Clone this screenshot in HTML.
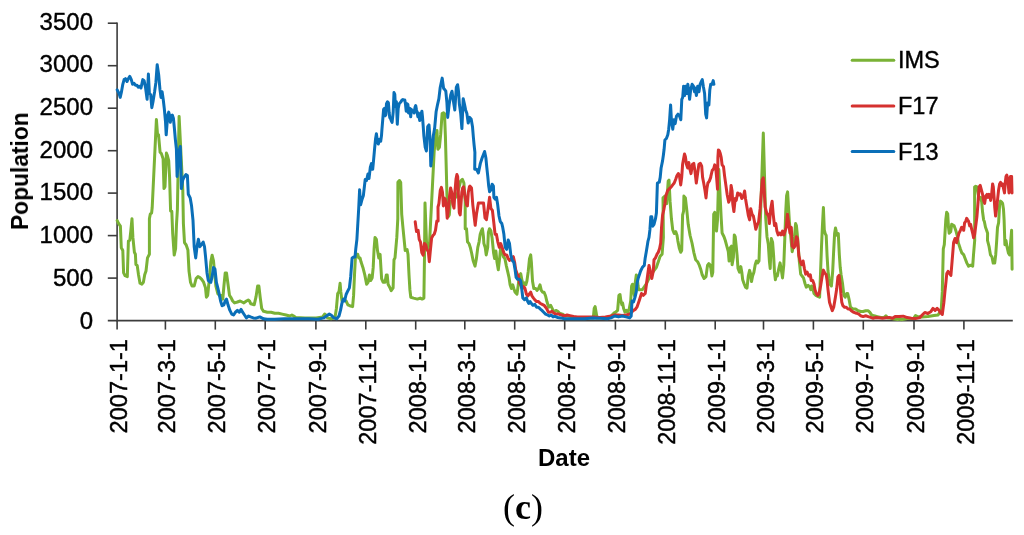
<!DOCTYPE html><html><head><meta charset="utf-8"><style>
html,body{margin:0;padding:0;background:#fff;}
body{width:1024px;height:535px;position:relative;overflow:hidden;font-family:"Liberation Sans",sans-serif;color:#000;}
svg{position:absolute;left:0;top:0;}
div{will-change:transform;}
.yl,.xl,.lg{-webkit-text-stroke:0.4px #000;}
.yl{position:absolute;font-size:24px;line-height:24px;text-align:right;width:80px;}
.xl{position:absolute;font-size:23.6px;line-height:24px;white-space:nowrap;width:150px;text-align:right;transform-origin:0 0;transform:rotate(-90deg);}
.lg{position:absolute;font-size:23.5px;line-height:24px;}
</style></head><body>

<svg width="1024" height="535" viewBox="0 0 1024 535"><line x1="117.1" y1="22.5" x2="117.1" y2="321.4" stroke="#3c3c3c" stroke-width="1.6"/><line x1="107.8" y1="320.6" x2="1012.8" y2="320.6" stroke="#3c3c3c" stroke-width="1.6"/><line x1="107.8" y1="278.1" x2="117.1" y2="278.1" stroke="#3c3c3c" stroke-width="1.6"/><line x1="107.8" y1="235.6" x2="117.1" y2="235.6" stroke="#3c3c3c" stroke-width="1.6"/><line x1="107.8" y1="193.1" x2="117.1" y2="193.1" stroke="#3c3c3c" stroke-width="1.6"/><line x1="107.8" y1="150.7" x2="117.1" y2="150.7" stroke="#3c3c3c" stroke-width="1.6"/><line x1="107.8" y1="108.2" x2="117.1" y2="108.2" stroke="#3c3c3c" stroke-width="1.6"/><line x1="107.8" y1="65.7" x2="117.1" y2="65.7" stroke="#3c3c3c" stroke-width="1.6"/><line x1="107.8" y1="23.2" x2="117.1" y2="23.2" stroke="#3c3c3c" stroke-width="1.6"/><line x1="117.1" y1="320.6" x2="117.1" y2="329.6" stroke="#3c3c3c" stroke-width="1.6"/><line x1="165.4" y1="320.6" x2="165.4" y2="329.6" stroke="#3c3c3c" stroke-width="1.6"/><line x1="215.3" y1="320.6" x2="215.3" y2="329.6" stroke="#3c3c3c" stroke-width="1.6"/><line x1="265.2" y1="320.6" x2="265.2" y2="329.6" stroke="#3c3c3c" stroke-width="1.6"/><line x1="315.9" y1="320.6" x2="315.9" y2="329.6" stroke="#3c3c3c" stroke-width="1.6"/><line x1="365.8" y1="320.6" x2="365.8" y2="329.6" stroke="#3c3c3c" stroke-width="1.6"/><line x1="415.7" y1="320.6" x2="415.7" y2="329.6" stroke="#3c3c3c" stroke-width="1.6"/><line x1="464.8" y1="320.6" x2="464.8" y2="329.6" stroke="#3c3c3c" stroke-width="1.6"/><line x1="514.7" y1="320.6" x2="514.7" y2="329.6" stroke="#3c3c3c" stroke-width="1.6"/><line x1="564.7" y1="320.6" x2="564.7" y2="329.6" stroke="#3c3c3c" stroke-width="1.6"/><line x1="615.4" y1="320.6" x2="615.4" y2="329.6" stroke="#3c3c3c" stroke-width="1.6"/><line x1="665.3" y1="320.6" x2="665.3" y2="329.6" stroke="#3c3c3c" stroke-width="1.6"/><line x1="715.2" y1="320.6" x2="715.2" y2="329.6" stroke="#3c3c3c" stroke-width="1.6"/><line x1="763.5" y1="320.6" x2="763.5" y2="329.6" stroke="#3c3c3c" stroke-width="1.6"/><line x1="813.4" y1="320.6" x2="813.4" y2="329.6" stroke="#3c3c3c" stroke-width="1.6"/><line x1="863.3" y1="320.6" x2="863.3" y2="329.6" stroke="#3c3c3c" stroke-width="1.6"/><line x1="914.0" y1="320.6" x2="914.0" y2="329.6" stroke="#3c3c3c" stroke-width="1.6"/><line x1="963.9" y1="320.6" x2="963.9" y2="329.6" stroke="#3c3c3c" stroke-width="1.6"/><polyline points="117.2,220.6 118.5,223.4 120.4,226.2 121.3,247.7 122.8,250.5 123.6,272.9 125.1,275.7 127.3,276.6 128.4,241.1 129.8,240.2 130.7,231.8 132.0,218.7 132.9,237.4 134.4,252.3 135.4,254.2 135.9,264.5 137.2,265.4 138.5,274.8 140.0,283.2 141.9,284.1 143.4,282.2 144.7,274.8 146.0,271.0 147.5,257.9 149.4,254.2 149.4,218.7 150.3,214.0 151.6,213.1 152.2,207.5 156.4,119.6 157.5,134.0 158.5,134.7 160.1,152.3 161.4,153.6 163.1,158.7 164.0,188.6 165.0,186.7 166.4,153.1 167.2,155.0 168.7,160.6 169.6,177.4 170.6,211.0 171.8,211.2 172.7,233.6 174.2,255.1 175.6,248.6 176.5,224.3 177.4,209.3 179.1,116.4 182.8,190.0 183.4,223.6 184.5,242.7 186.2,245.0 187.9,250.0 189.0,271.0 190.5,282.2 192.0,286.0 194.2,286.0 196.1,278.5 198.0,276.6 199.9,277.6 201.7,279.4 203.6,282.2 205.5,287.9 206.4,297.2 207.7,295.3 208.8,284.1 209.3,280.5 210.8,261.8 212.1,255.2 213.5,260.8 214.6,273.0 215.9,286.1 217.8,293.6 219.6,295.4 221.5,295.4 222.8,299.2 223.9,286.1 225.2,273.0 226.5,273.0 228.0,284.2 229.5,295.4 230.8,297.3 232.7,301.0 234.6,302.9 237.4,302.0 240.2,301.0 242.1,302.0 243.9,302.9 246.4,301.0 248.2,300.1 249.5,301.0 250.8,303.8 254.2,304.8 256.1,296.4 257.6,286.1 258.9,286.1 260.2,297.3 261.7,308.5 263.6,311.3 267.3,312.2 271.0,312.2 274.8,313.2 278.5,313.2 282.2,314.1 286.0,315.0 289.7,316.0 291.9,315.0 293.7,316.0 295.6,317.5 305.0,317.9 316.2,317.9 322.7,316.9 324.6,314.1 325.9,315.0 327.4,317.9 331.1,318.8 334.9,317.9 336.4,308.5 337.7,293.6 339.0,291.7 340.1,283.3 340.8,291.7 342.0,301.0 343.3,299.2 344.6,300.1 346.1,301.0 347.9,304.8 349.8,305.7 352.6,306.6 353.6,295.4 354.5,274.9 355.4,258.0 356.4,254.3 357.7,254.3 358.8,258.0 360.1,258.0 361.0,261.8 362.9,267.4 364.8,274.9 366.6,284.2 368.1,282.3 369.4,274.9 370.7,280.5 372.2,277.7 373.2,267.4 374.1,248.7 375.0,237.5 376.4,239.3 377.5,250.6 378.8,258.0 380.1,254.3 381.6,278.6 383.1,282.3 385.0,282.3 386.3,274.9 387.2,274.9 388.1,284.2 390.0,287.9 391.2,290.7 393.1,287.9 394.0,259.8 395.0,257.9 396.8,237.4 397.8,218.7 397.9,182.3 399.4,180.5 400.7,182.3 401.7,214.1 402.8,226.2 403.9,237.4 405.2,250.5 407.1,249.5 408.0,254.2 409.0,274.8 409.9,289.7 410.8,297.2 413.6,298.1 417.4,299.1 420.2,298.1 422.1,299.1 423.9,298.1 424.5,256.1 425.0,202.9 426.7,247.3 427.6,249.9 429.6,242.1 434.2,151.0 435.7,136.1 437.0,130.5 437.9,149.2 439.4,147.3 440.7,134.2 442.1,113.6 443.6,112.7 444.5,113.6 445.4,136.1 446.5,177.4 447.1,201.7 448.4,216.6 449.3,214.8 450.3,201.7 453.1,199.8 456.8,196.1 460.6,181.1 462.4,179.3 463.9,183.0 465.2,201.7 465.2,228.7 465.2,228.7 466.5,228.7 467.5,241.8 469.0,243.6 470.3,247.4 471.6,253.0 473.1,260.5 475.0,266.1 476.4,258.6 477.8,247.4 479.1,241.8 480.2,234.3 481.5,230.6 482.4,228.7 483.4,236.2 483.9,243.6 485.2,247.4 486.2,254.9 487.7,247.4 488.4,232.4 489.5,228.7 490.8,230.6 492.1,238.0 493.6,253.0 494.6,258.6 495.9,251.1 497.0,262.3 498.3,269.8 499.6,258.6 500.7,247.4 502.1,251.1 503.4,256.7 504.9,258.6 506.4,266.1 507.7,271.7 509.0,277.3 510.1,284.8 511.4,288.5 512.7,284.8 513.8,288.5 515.1,292.2 517.0,294.1 518.3,284.8 519.4,275.4 520.7,273.6 522.1,281.0 523.2,284.8 524.5,282.9 525.8,284.8 526.9,281.0 528.2,271.7 529.5,258.6 530.7,254.9 531.4,262.3 532.5,281.0 533.8,288.5 535.7,288.5 537.0,290.4 538.5,288.5 540.0,284.8 541.3,290.4 542.6,292.2 544.1,292.2 545.6,296.0 546.9,301.6 548.8,307.2 550.7,305.3 552.5,309.1 553.5,312.2 555.9,310.4 557.8,311.3 559.6,313.2 562.4,314.1 565.2,316.0 568.0,316.0 571.8,316.9 575.5,317.5 579.3,317.9 583.0,318.2 586.7,317.9 590.5,317.9 593.3,317.9 594.2,308.5 595.1,306.6 596.1,312.2 597.0,317.9 599.8,317.9 603.6,317.5 607.3,317.9 611.0,316.0 613.8,313.2 615.7,312.2 617.6,310.4 618.9,295.4 620.0,294.5 620.9,301.0 621.9,304.8 622.6,302.9 623.6,308.5 625.0,312.2 626.4,310.4 627.9,312.2 629.3,308.5 630.7,301.0 631.6,286.1 632.5,284.2 633.5,289.8 634.4,295.4 635.3,282.3 636.3,274.9 637.2,276.7 638.1,286.1 638.7,289.7 642.4,289.7 646.2,284.1 649.9,276.6 653.6,271.0 656.4,267.3 658.3,261.7 660.2,256.1 662.1,254.2 663.4,237.4 663.0,197.9 664.9,196.1 666.7,203.6 668.2,181.1 669.0,180.2 670.1,201.7 671.4,218.5 672.7,229.7 674.2,233.5 675.7,231.6 677.0,235.3 677.9,241.1 679.4,248.6 680.7,252.3 681.7,250.5 682.6,215.0 683.6,211.2 683.9,196.1 685.4,197.9 686.9,211.2 688.2,224.3 690.1,235.5 692.0,243.0 693.8,252.3 695.7,259.8 697.6,261.7 699.4,265.4 700.7,269.2 702.2,274.8 704.1,278.5 706.0,276.6 707.5,265.4 708.8,263.6 710.0,264.8 710.9,268.5 711.9,276.0 712.8,272.2 713.7,214.3 714.7,212.4 715.6,216.2 716.5,231.1 717.5,219.9 718.8,169.5 721.2,218.0 722.1,233.0 724.0,236.7 725.3,240.5 726.8,246.1 728.3,251.7 729.1,261.0 730.2,247.9 731.5,246.1 732.1,264.8 733.4,257.3 734.3,234.9 735.2,236.7 736.2,246.1 737.1,255.4 738.0,268.5 739.5,272.2 740.8,266.6 741.8,272.2 742.7,279.7 744.0,283.5 745.5,287.2 747.0,288.1 748.3,276.0 749.6,270.4 750.7,274.1 751.5,281.6 752.6,276.0 753.9,272.2 755.2,264.8 756.4,261.0 757.7,262.9 759.0,261.0 763.3,133.1 765.7,218.0 767.0,236.7 768.3,244.2 769.4,261.0 770.2,268.5 771.3,238.6 772.6,242.3 773.6,255.4 774.5,272.2 775.4,279.7 776.4,274.1 777.3,276.0 778.8,268.5 780.1,262.9 781.4,270.4 782.5,277.9 783.8,264.8 784.8,238.6 785.7,212.4 786.6,195.6 787.6,191.9 788.5,206.8 789.4,221.8 790.4,233.0 791.3,242.3 792.2,251.7 793.2,246.1 794.5,236.7 795.6,223.6 796.4,225.5 797.5,236.7 798.2,246.1 799.3,261.0 800.7,274.1 802.0,276.0 803.5,277.9 805.0,283.5 806.3,287.2 808.1,285.3 810.0,287.2 810.8,289.7 811.6,286.0 812.7,287.9 814.0,293.5 815.9,295.3 817.8,296.3 819.6,297.2 820.6,271.0 821.5,246.7 822.4,226.2 823.4,207.5 824.3,229.9 825.2,233.6 826.2,235.5 827.1,256.1 828.0,271.0 829.0,278.5 829.9,284.1 831.4,286.0 832.7,271.0 833.6,252.3 834.6,233.6 835.5,228.0 836.4,231.8 837.4,235.5 838.3,233.6 839.3,254.2 840.2,267.3 841.1,274.8 842.6,284.1 843.9,295.3 845.2,297.2 846.7,293.5 847.7,293.5 849.0,299.1 850.5,307.3 853.0,309.0 855.6,309.0 858.1,310.7 860.6,311.5 863.1,311.5 865.7,310.7 868.2,310.7 869.9,312.4 871.5,314.9 874.1,315.8 877.4,316.6 880.8,317.4 884.2,317.4 885.9,315.8 887.5,317.8 890.9,318.3 894.3,319.1 897.6,319.5 900.0,319.1 901.2,319.7 907.3,318.6 913.5,318.6 915.5,315.5 917.6,316.6 921.7,317.0 927.9,316.6 934.0,315.5 938.1,314.9 941.2,310.4 942.3,291.9 943.3,248.8 944.3,244.7 945.8,219.8 946.7,212.3 947.7,213.8 948.5,227.3 949.2,233.3 950.7,231.8 951.7,224.3 952.9,225.0 954.1,225.8 955.2,228.8 956.2,231.8 957.4,236.3 958.3,242.6 960.3,248.8 961.8,252.9 963.8,254.9 965.3,259.0 966.9,263.1 968.6,266.2 970.6,265.2 972.7,266.2 973.5,254.9 974.7,240.5 974.6,186.9 975.7,186.2 976.9,186.9 979.1,198.9 980.6,197.4 981.7,201.9 982.6,212.3 983.6,219.8 984.3,221.3 985.5,227.3 986.6,230.3 987.6,233.3 987.5,240.5 989.1,246.7 990.5,254.9 992.0,257.0 993.2,263.1 994.7,263.1 995.7,254.9 996.7,240.5 997.5,227.3 998.6,222.8 999.6,204.9 1000.5,201.1 1001.5,201.9 1002.6,203.4 1003.5,209.3 1004.1,219.8 1004.9,244.7 1006.0,240.5 1007.0,246.7 1008.4,252.9 1009.6,254.9 1011.6,230.3 1012.1,269.3" fill="none" stroke="#7ab236" stroke-width="3.0" stroke-linejoin="round" stroke-linecap="round"/><polyline points="415.2,221.8 416.5,231.6 418.1,230.3 419.2,239.4 420.5,242.1 421.8,252.5 423.1,255.1 424.4,243.4 425.7,244.7 427.0,249.9 428.3,251.2 429.3,261.7 430.3,251.2 431.6,238.1 432.9,235.5 434.2,234.2 435.5,230.3 436.8,221.1 438.1,221.1 438.0,207.0 438.9,203.6 440.3,190.2 441.4,187.4 442.5,192.4 443.4,205.9 444.2,198.0 445.3,199.2 446.4,205.9 447.2,218.2 448.1,212.6 449.3,198.0 450.6,187.9 451.7,192.4 452.8,203.6 454.0,208.1 454.9,192.4 456.0,179.0 456.9,174.5 457.7,176.7 458.2,190.2 459.3,212.6 460.2,214.9 461.0,203.6 461.8,192.4 462.7,187.9 463.6,186.8 464.4,192.4 465.5,199.2 466.6,204.8 467.4,205.9 468.3,192.4 469.4,186.8 470.0,186.1 471.5,187.9 472.8,204.8 474.1,216.0 475.2,225.3 476.5,214.1 478.4,202.9 481.2,202.9 483.5,202.9 485.0,217.9 486.4,219.7 487.8,210.4 489.6,197.3 490.9,208.5 492.4,210.4 493.9,223.5 495.1,234.3 496.4,234.3 497.8,241.8 499.3,247.4 500.7,243.6 502.1,247.4 503.9,253.0 505.2,254.9 506.7,254.9 508.2,258.6 509.5,260.5 511.4,258.6 513.3,256.7 514.6,262.3 515.7,269.8 517.0,273.6 518.3,275.4 519.4,282.9 520.7,284.8 522.1,288.5 523.6,286.6 525.0,288.5 526.4,294.1 527.7,296.0 529.2,294.1 530.7,292.2 532.0,296.0 533.3,297.9 534.8,299.7 536.6,301.6 538.5,301.6 540.4,303.5 542.2,304.4 544.1,305.3 545.6,307.2 546.9,309.1 548.4,312.2 550.3,312.2 552.1,311.3 554.0,313.2 555.9,314.1 558.7,314.1 561.5,315.0 564.3,316.0 567.1,315.0 569.9,315.6 573.6,316.4 577.4,316.9 583.0,316.9 588.6,316.9 594.2,316.9 599.8,317.5 605.4,316.9 611.0,316.0 614.8,315.0 618.5,315.0 622.2,315.6 626.0,315.0 629.7,314.1 631.6,312.2 633.5,310.4 635.3,309.4 637.2,306.6 639.1,301.0 641.5,293.5 643.4,295.3 645.2,293.5 646.2,286.0 647.7,274.8 649.0,265.4 650.3,271.0 651.8,278.5 653.3,271.0 654.0,259.8 655.5,257.9 657.0,254.2 658.3,252.3 659.6,248.6 660.7,243.0 661.5,228.0 662.6,215.0 663.9,209.3 664.9,203.7 665.8,196.1 667.7,190.5 669.5,188.6 671.4,186.7 672.7,184.9 674.2,183.0 675.7,179.3 677.0,175.5 678.3,173.6 679.4,175.5 680.7,184.9 681.7,177.4 682.6,164.3 683.6,158.7 684.5,154.0 685.4,156.8 686.4,164.3 687.7,168.0 688.8,162.4 690.1,169.9 691.0,173.6 692.5,164.3 693.8,163.4 694.8,169.9 696.3,183.0 697.6,173.6 698.9,164.3 700.4,163.4 701.7,166.2 702.6,177.4 703.7,183.0 705.0,190.5 706.0,197.9 706.9,188.6 707.9,183.0 709.3,181.1 710.7,177.4 710.9,176.1 712.2,170.5 713.7,168.6 714.7,164.9 715.6,166.7 716.5,176.1 717.5,189.2 717.9,157.4 718.4,149.9 719.3,150.8 720.3,153.6 721.2,157.4 722.1,164.9 723.5,166.7 724.6,176.1 725.9,185.4 727.2,194.8 728.7,202.2 730.2,198.5 731.1,185.4 732.1,191.0 732.8,204.1 733.9,211.6 735.2,198.5 736.2,200.4 737.7,192.9 739.0,194.8 740.3,193.8 741.8,198.5 743.3,196.6 744.6,191.0 745.5,198.5 746.4,204.1 747.4,209.7 748.3,215.3 749.6,219.9 750.7,208.7 752.1,214.3 753.4,216.2 754.5,221.8 755.8,229.3 757.1,225.5 758.6,221.8 760.1,208.7 762.3,179.8 763.3,177.9 764.2,191.0 765.1,206.8 766.1,210.6 767.0,214.3 768.3,214.3 769.4,223.6 770.7,208.7 772.1,201.2 773.2,214.3 774.5,225.5 775.8,223.6 776.9,231.1 778.2,234.9 779.5,233.0 781.0,234.9 782.5,231.1 783.8,234.9 785.1,231.1 786.3,227.4 787.4,214.3 788.5,221.8 790.0,233.0 791.3,227.4 792.2,246.1 793.7,247.9 795.0,246.1 796.4,236.7 797.5,238.6 798.8,255.4 800.1,261.0 801.6,264.8 803.1,261.0 804.4,268.5 805.7,274.1 807.2,272.2 808.7,276.0 810.3,274.8 811.2,280.4 812.7,280.4 814.0,284.1 815.0,289.7 816.4,293.5 817.8,295.3 819.1,293.5 820.6,286.0 822.1,276.6 823.4,270.1 824.7,272.9 826.2,274.8 827.1,280.4 828.0,289.7 829.5,302.3 831.1,307.3 832.3,310.7 833.7,307.3 835.4,297.2 836.7,288.8 837.9,277.0 839.1,275.4 840.1,283.8 840.9,293.9 841.8,302.3 842.9,305.7 844.6,307.3 846.3,307.3 848.0,309.0 849.7,309.0 851.3,310.7 853.9,312.4 856.4,313.2 858.9,314.1 860.6,315.8 863.1,316.6 865.7,315.8 868.2,316.6 870.7,317.4 873.2,318.3 875.8,317.4 879.1,317.8 882.5,318.3 885.9,317.8 889.2,317.4 892.6,318.3 895.1,316.6 897.6,316.6 899.1,316.6 903.2,316.2 907.3,317.6 911.4,318.2 915.5,318.6 919.7,317.6 922.7,314.5 924.8,312.5 927.9,313.5 931.0,311.4 933.0,308.4 935.1,310.4 937.1,308.4 939.2,310.4 940.2,312.5 942.3,314.5 943.9,302.2 944.9,291.9 946.0,281.6 946.8,273.4 948.0,271.4 949.4,273.4 950.9,275.5 952.1,261.1 953.6,242.6 955.0,238.5 956.6,242.6 958.9,233.3 960.4,230.3 961.6,227.3 962.7,228.0 963.7,230.3 964.6,222.8 965.7,221.3 966.7,218.3 967.6,219.8 968.6,221.3 969.7,225.8 970.6,224.3 971.6,228.8 972.7,233.3 973.6,237.8 974.6,234.8 976.9,216.8 978.1,201.9 979.1,186.9 980.2,185.4 981.4,189.9 982.6,194.4 983.6,200.4 984.6,203.4 985.8,195.9 987.0,194.4 988.1,197.4 989.1,194.4 990.0,195.9 990.6,200.4 991.5,195.9 992.6,183.9 993.3,186.9 994.1,197.4 994.8,207.9 995.6,216.1 996.3,210.8 997.5,200.4 998.6,189.9 999.6,183.9 1000.5,182.4 1001.5,185.4 1002.6,183.9 1003.5,188.4 1004.5,192.9 1005.3,182.4 1006.0,176.4 1006.8,175.0 1007.5,177.9 1008.3,185.4 1009.0,192.9 1009.8,183.9 1010.5,176.4 1011.6,176.4 1012.0,192.9" fill="none" stroke="#d5312f" stroke-width="3.0" stroke-linejoin="round" stroke-linecap="round"/><polyline points="117.2,89.9 119.1,93.6 120.2,97.4 121.3,92.7 122.8,84.3 124.1,79.6 125.5,78.7 127.0,81.5 128.3,78.7 129.8,76.4 131.3,79.6 132.6,84.3 134.1,83.4 135.4,85.2 136.9,85.2 138.2,87.1 139.7,86.2 141.0,88.0 142.8,79.6 144.1,80.6 145.6,88.0 147.1,99.3 148.4,74.0 149.4,93.6 150.7,94.6 151.8,107.7 153.1,101.1 154.6,91.8 155.9,82.4 157.2,64.7 158.7,75.0 160.0,89.9 161.0,97.4 162.1,91.8 163.2,99.3 164.3,108.6 165.5,121.7 166.2,134.8 167.7,115.1 168.7,112.1 169.8,116.2 170.3,122.3 171.3,116.2 172.3,115.1 173.4,118.2 174.4,128.5 175.4,139.8 176.4,149.1 177.1,176.4 178.0,164.3 179.0,151.2 180.3,146.5 181.4,188.6 182.7,180.2 184.0,177.4 185.9,174.6 187.4,175.5 188.3,194.2 190.2,197.9 191.5,205.4 193.0,220.4 194.2,246.7 195.7,257.9 197.0,246.7 198.4,239.3 199.9,246.7 201.3,244.9 203.2,242.1 204.5,246.7 205.5,256.1 207.0,272.9 208.3,280.4 210.1,282.2 210.8,282.3 212.1,276.7 213.5,267.4 215.0,269.3 216.4,282.3 217.8,287.9 219.1,293.6 220.6,301.0 222.1,305.7 223.9,304.8 225.2,301.0 226.5,299.2 228.0,304.8 229.9,310.4 231.8,314.1 233.6,315.0 235.5,312.2 237.4,310.4 239.3,312.2 241.1,309.4 242.6,312.2 244.5,315.0 246.4,317.9 248.6,316.0 250.5,316.9 253.3,317.9 256.1,318.2 259.8,316.9 263.6,318.8 267.3,319.3 274.8,319.3 284.1,318.8 293.5,318.8 299.3,318.8 308.7,318.8 318.0,319.3 323.6,317.9 326.4,316.0 329.3,314.1 331.1,315.0 333.9,317.9 336.7,318.8 339.0,316.0 340.5,310.4 342.0,302.9 343.3,299.2 344.6,301.0 346.1,294.5 347.9,290.7 349.4,287.9 350.7,276.7 352.1,258.0 353.6,257.1 355.0,257.1 355.8,248.7 356.9,239.3 358.7,208.5 359.6,189.8 360.6,204.8 362.1,199.2 363.4,195.4 365.2,179.5 366.5,180.5 368.0,173.9 369.0,178.6 370.3,167.4 371.4,163.6 372.7,169.3 373.6,159.9 374.6,148.7 375.5,139.3 376.4,133.7 377.4,141.2 378.3,144.0 379.6,139.3 380.7,141.2 381.5,135.6 381.9,129.9 383.6,109.3 384.5,108.4 385.1,115.8 385.8,114.9 386.5,103.7 387.5,101.8 388.4,102.8 389.2,113.0 389.8,117.7 390.5,118.6 391.2,120.5 392.1,122.4 393.2,112.0 394.0,92.5 394.8,94.3 395.4,106.5 396.4,101.8 397.3,124.3 398.2,108.4 399.2,103.7 400.1,102.8 401.0,101.8 402.0,100.0 402.9,99.5 403.8,100.0 404.8,100.0 405.4,103.7 406.2,111.2 407.1,103.7 407.9,104.6 408.5,113.0 409.2,109.3 409.9,108.4 410.7,116.8 411.3,109.3 412.2,111.2 413.2,110.5 414.1,113.0 415.0,107.4 415.7,105.6 416.4,109.3 417.2,113.0 417.9,116.8 418.5,113.0 419.1,116.8 419.7,120.5 420.4,118.0 421.1,114.0 421.9,111.2 422.5,116.8 423.2,126.1 423.9,136.1 425.2,147.3 426.4,151.0 427.7,126.7 429.0,124.9 430.1,139.8 430.8,166.0 432.0,154.8 433.3,136.1 434.6,128.6 436.1,111.8 437.6,104.3 438.9,98.7 440.2,87.5 442.2,78.1 443.6,88.4 444.5,89.3 445.8,91.2 446.9,102.4 447.7,117.4 449.2,104.3 450.7,95.0 452.0,91.2 453.3,100.6 454.8,109.9 456.3,87.5 457.6,84.7 458.5,91.2 459.4,104.3 460.7,113.6 461.9,128.6 463.2,98.7 464.5,104.3 465.6,109.9 466.9,113.6 468.2,123.0 469.7,117.4 471.2,119.3 472.5,126.7 473.4,137.5 474.1,145.0 474.9,152.4 474.7,169.3 476.5,169.3 478.4,173.0 480.3,163.6 482.1,158.0 484.6,151.5 485.9,158.0 486.8,167.4 487.8,176.7 488.7,186.1 489.6,191.7 490.9,189.8 492.1,184.2 493.4,186.1 493.9,197.3 495.2,199.2 496.5,197.3 497.7,204.8 499.0,216.0 500.3,221.6 501.8,223.5 502.6,226.8 503.9,234.3 505.2,247.4 506.7,249.3 508.2,239.9 509.5,243.6 510.8,254.9 512.3,260.5 513.8,262.3 515.1,269.8 516.1,277.3 517.6,279.2 519.4,279.2 520.7,281.0 521.7,288.5 522.8,297.9 524.5,299.7 526.4,297.9 527.7,301.6 528.8,303.5 530.1,301.6 531.4,303.5 532.9,305.3 534.8,304.4 536.6,307.2 538.5,307.2 540.4,309.1 541.9,310.4 543.7,312.2 545.6,314.1 547.5,315.0 549.3,316.0 551.2,315.0 553.1,316.9 555.0,316.4 557.8,317.5 560.6,317.9 564.3,318.8 569.9,318.8 577.4,318.8 584.9,318.8 592.3,317.9 599.8,318.2 607.3,318.8 611.0,317.9 614.8,316.0 618.5,316.9 622.2,316.0 626.0,316.9 629.7,317.9 631.2,316.0 632.0,301.0 633.5,302.0 635.0,297.3 636.3,291.7 637.2,282.3 638.1,278.6 640.6,271.0 642.4,267.3 644.3,265.4 645.2,257.9 646.2,252.3 647.1,246.7 648.0,241.1 649.0,237.4 649.9,229.9 650.8,216.8 651.8,216.8 652.7,226.2 654.0,224.3 655.5,218.7 656.4,213.1 657.4,183.0 659.3,182.1 660.2,177.4 661.1,168.0 662.6,160.6 663.4,155.0 664.1,149.3 664.9,140.0 666.4,138.5 667.8,134.8 668.7,129.2 669.6,119.8 670.6,104.9 671.5,121.7 672.8,129.2 673.9,119.8 675.2,123.6 676.5,116.1 678.0,114.2 679.5,116.1 680.8,119.8 681.8,99.3 682.7,97.4 683.6,86.2 684.6,95.5 685.5,86.2 686.8,93.6 687.8,84.3 688.9,91.8 689.6,99.3 690.7,89.9 692.1,84.3 693.4,86.2 694.5,91.8 695.2,88.0 696.4,95.5 697.7,86.2 699.0,91.8 700.1,84.3 701.4,81.5 702.3,79.6 703.3,86.2 704.6,93.6 705.7,114.2 706.6,117.9 707.6,103.0 708.9,104.9 709.8,89.9 710.7,84.3 712.1,84.3 713.2,80.6 713.9,84.3" fill="none" stroke="#0a6fb8" stroke-width="3.0" stroke-linejoin="round" stroke-linecap="round"/><line x1="852.2" y1="60.2" x2="893.8" y2="60.2" stroke="#7ab236" stroke-width="3" stroke-linecap="round"/><line x1="852.2" y1="106.0" x2="893.8" y2="106.0" stroke="#d5312f" stroke-width="3" stroke-linecap="round"/><line x1="852.2" y1="151.6" x2="893.8" y2="151.6" stroke="#0a6fb8" stroke-width="3" stroke-linecap="round"/></svg>
<div class="yl" style="left:12.5px;top:308.6px">0</div>
<div class="yl" style="left:12.5px;top:265.9px">500</div>
<div class="yl" style="left:12.5px;top:223.2px">1000</div>
<div class="yl" style="left:12.5px;top:180.4px">1500</div>
<div class="yl" style="left:12.5px;top:137.7px">2000</div>
<div class="yl" style="left:12.5px;top:94.9px">2500</div>
<div class="yl" style="left:12.5px;top:52.2px">3000</div>
<div class="yl" style="left:12.5px;top:9.5px">3500</div>
<div class="xl" style="left:107.1px;top:488.5px">2007-1-1</div>
<div class="xl" style="left:155.4px;top:488.5px">2007-3-1</div>
<div class="xl" style="left:205.3px;top:488.5px">2007-5-1</div>
<div class="xl" style="left:255.2px;top:488.5px">2007-7-1</div>
<div class="xl" style="left:305.9px;top:488.5px">2007-9-1</div>
<div class="xl" style="left:355.8px;top:488.5px">2007-11-1</div>
<div class="xl" style="left:405.7px;top:488.5px">2008-1-1</div>
<div class="xl" style="left:454.8px;top:488.5px">2008-3-1</div>
<div class="xl" style="left:504.7px;top:488.5px">2008-5-1</div>
<div class="xl" style="left:554.7px;top:488.5px">2008-7-1</div>
<div class="xl" style="left:605.4px;top:488.5px">2008-9-1</div>
<div class="xl" style="left:655.3px;top:488.5px">2008-11-1</div>
<div class="xl" style="left:705.2px;top:488.5px">2009-1-1</div>
<div class="xl" style="left:753.5px;top:488.5px">2009-3-1</div>
<div class="xl" style="left:803.4px;top:488.5px">2009-5-1</div>
<div class="xl" style="left:853.3px;top:488.5px">2009-7-1</div>
<div class="xl" style="left:904.0px;top:488.5px">2009-9-1</div>
<div class="xl" style="left:953.9px;top:488.5px">2009-11-1</div>
<div class="lg" style="left:898px;top:48px">IMS</div>
<div class="lg" style="left:898px;top:94px">F17</div>
<div class="lg" style="left:898px;top:140px">F13</div>
<div style="position:absolute;left:7px;top:229.5px;font-weight:bold;font-size:23px;line-height:26px;white-space:nowrap;transform-origin:0 0;transform:rotate(-90deg) scaleX(0.99);">Population</div>
<div style="position:absolute;left:538px;top:444px;font-weight:bold;font-size:24px;">Date</div>
<div style="position:absolute;left:502.8px;top:487px;font-family:'Liberation Serif',serif;font-size:36px;line-height:40px;">(<b>c</b>)</div>
</body></html>
